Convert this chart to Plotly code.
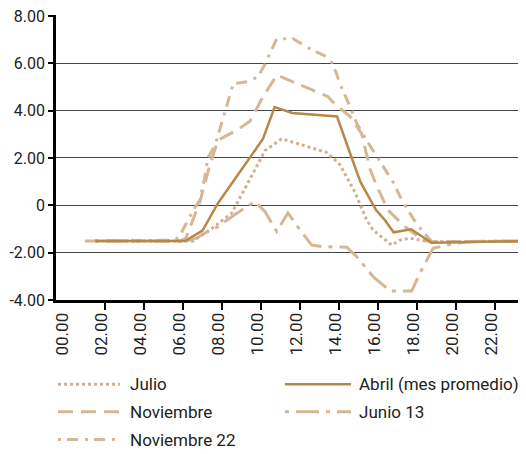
import plotly.graph_objects as go

# ---- data ----
julio_h = [1.49, 6.51, 7.38, 8.5, 9.44, 10.21, 11.06, 12.15, 13.37, 14.05, 14.82, 15.42, 15.74, 16.71, 17.13, 17.64, 18.67, 23.6]
julio_v = [-1.51, -1.51, -1.04, -0.33, 1.12, 2.32, 2.81, 2.53, 2.23, 1.72, 0.55, -0.62, -1.04, -1.68, -1.47, -1.39, -1.54, -1.51]

abril_h = [1.5, 6.1, 7.0, 7.8, 10.1, 10.7, 11.6, 13.9, 14.65, 15.1, 15.9, 16.35, 16.8, 17.7, 18.75, 23.6]
abril_v = [-1.51, -1.51, -1.07, 0.10, 2.80, 4.15, 3.90, 3.75, 2.01, 0.99, -0.20, -0.62, -1.14, -1.01, -1.58, -1.51]

nov_h = [0.97, 5.85, 6.15, 6.87, 7.38, 7.79, 8.82, 9.44, 10.1, 10.82, 12.0, 13.44, 13.8, 14.56, 15.16, 15.59, 15.93, 16.51, 17.38, 18.31, 18.67, 23.6]
nov_v = [-1.51, -1.51, -1.38, 0.16, 1.72, 2.75, 3.2, 3.56, 4.59, 5.5, 5.09, 4.59, 4.26, 3.76, 3.03, 1.53, 0.83, -0.2, -0.9, -1.47, -1.54, -1.51]

jun_h = [1.49, 6.19, 6.7, 7.13, 7.8, 8.5, 9.27, 9.69, 10.21, 10.81, 11.38, 12.0, 12.6, 13.18, 14.4, 14.91, 15.75, 16.62, 17.73, 18.15, 18.82, 19.52, 20.55, 23.6]
jun_v = [-1.51, -1.51, -1.38, -1.17, -0.9, -0.48, -0.06, 0.16, -0.27, -1.11, -0.32, -1.04, -1.68, -1.75, -1.77, -2.17, -3.01, -3.62, -3.62, -2.86, -1.82, -1.68, -1.54, -1.51]

nov22_h = [1.49, 5.59, 5.85, 6.45, 6.87, 7.1, 7.28, 7.64, 7.98, 8.32, 8.58, 9.33, 9.85, 10.21, 10.81, 11.64, 12.6, 13.28, 13.63, 13.88, 14.05, 14.56, 14.91, 15.42, 16.1, 16.77, 17.21, 17.79, 18.24, 18.77, 23.6]
nov22_v = [-1.51, -1.47, -1.26, -0.33, 0.24, 1.12, 2.01, 2.53, 3.47, 4.38, 5.14, 5.22, 5.43, 5.97, 7.04, 7.04, 6.57, 6.31, 6.04, 5.55, 5.14, 4.18, 3.46, 2.74, 1.88, 0.99, 0.24, -0.54, -1.05, -1.55, -1.51]

x_tick_vals = [0, 2, 4, 6, 8, 10, 12, 14, 16, 18, 20, 22]
x_tick_text = ["00.00", "02.00", "04.00", "06.00", "08.00", "10.00", "12.00",
               "14.00", "16.00", "18.00", "20.00", "22.00"]
y_tick_vals = [8, 6, 4, 2, 0, -2, -4]
y_tick_text = ["8.00", "6.00", "4.00", "2.00", "0", "-2.00", "-4.00"]

TAN = "#d4b896"
DOT = "#d2b08f"
GOLD = "#b8874a"
FONT = "Roboto, Liberation Sans, sans-serif"
X_FS = 17
Y_FS = 16
LEG_FS = 17

series = [
    dict(name="Julio", h=julio_h, v=julio_v, color=DOT, dash="3px,3px", width=3),
    dict(name="Abril (mes promedio)", h=abril_h, v=abril_v, color=GOLD, dash="solid", width=2.5),
    dict(name="Noviembre", h=nov_h, v=nov_v, color=TAN, dash="15px,8px", width=3),
    dict(name="Junio 13", h=jun_h, v=jun_v, color=TAN, dash="4px,7px,23px,7px", width=3),
    dict(name="Noviembre 22", h=nov22_h, v=nov22_v, color=TAN, dash="3px,6px,11px,7px", width=3),
]

fig = go.Figure()
draw_order = [4, 3, 2, 0, 1]
for i in draw_order:
    s = series[i]
    fig.add_trace(go.Scatter(x=s["h"], y=s["v"], mode="lines", name=s["name"],
                             line=dict(color=s["color"], dash=s["dash"], width=s["width"]),
                             showlegend=False))

# manual legend (two columns)
legend_pos = [  # (sample x0, sample x1, text x, y) in paper coords
    (0.0043, 0.1362, 0.1532, -0.2958),
    (0.4872, 0.6277, 0.6404, -0.2958),
    (0.0043, 0.1362, 0.1532, -0.3919),
    (0.4872, 0.6277, 0.6404, -0.3919),
    (0.0043, 0.1362, 0.1532, -0.4895),
]
for s, (x0, x1, xt, yy) in zip(series, legend_pos):
    fig.add_shape(type="line", xref="paper", yref="paper", x0=x0, x1=x1, y0=yy, y1=yy,
                  line=dict(color=s["color"], dash=s["dash"], width=s["width"]))
    fig.add_annotation(xref="paper", yref="paper", x=xt, y=yy, text=s["name"],
                       showarrow=False, xanchor="left", yanchor="middle",
                       font=dict(family=FONT, size=LEG_FS, color="#222"))

# the page adds an 8px body margin, so the figure is sized to fill the rest
fig.update_layout(
    width=518, height=446,
    margin=dict(l=48, r=0, t=7, b=154),
    plot_bgcolor="white", paper_bgcolor="white",
    font=dict(family=FONT, size=X_FS, color="#222"),
)
fig.update_xaxes(
    range=[-0.513, 23.59],
    tickmode="array",
    tickvals=[v - 0.18 for v in x_tick_vals],
    ticktext=x_tick_text,
    tickangle=-90,
    ticks="outside", ticklen=3, tickcolor="rgba(0,0,0,0)",
    showgrid=False, zeroline=False, automargin=False,
    ticklabeloverflow="allow",
    showline=True, linecolor="black", linewidth=3,
    minor=dict(tickmode="array", tickvals=x_tick_vals[1:], ticks="outside",
               ticklen=7, tickwidth=2, tickcolor="black", showgrid=False),
    tickfont=dict(family=FONT, size=X_FS, color="#222"),
)
fig.update_yaxes(
    range=[-4.0, 8.04],
    tickmode="array", tickvals=y_tick_vals, ticktext=y_tick_text,
    ticks="outside", ticklen=5, tickwidth=2, tickcolor="black",
    ticklabelstandoff=0, automargin=False,
    ticklabeloverflow="allow",
    showgrid=True, gridcolor="#444", gridwidth=1,
    zeroline=False,
    showline=True, linecolor="black", linewidth=2.5,
    tickfont=dict(family=FONT, size=Y_FS, color="#222"),
)

fig.write_html("out.html")
